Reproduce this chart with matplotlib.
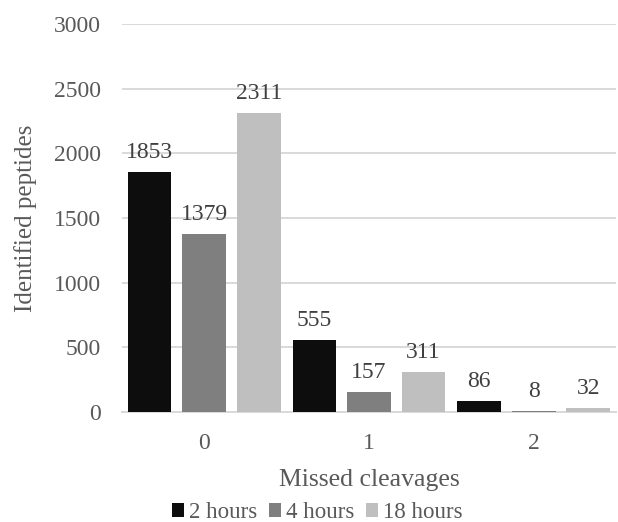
import matplotlib.pyplot as plt
import numpy as np

plt.rcParams['font.family'] = ['Liberation Serif', 'DejaVu Serif']

# Identified peptides per missed-cleavage count, by digestion time
categories = ['0', '1', '2']
series_names = ['2 hours', '4 hours', '18 hours']
hours_2 = [1853, 555, 86]
hours_4 = [1379, 157, 8]
hours_18 = [2311, 311, 32]
colors = ['#0d0d0d', '#7f7f7f', '#bfbfbf']

text_color = '#595959'

fig = plt.figure(figsize=(6.18, 5.22), dpi=100)
ax = fig.add_axes([0.197, 0.211, 0.800, 0.743])

x = np.arange(len(categories))
step = 0.331
width = 0.265
for i, (vals, name, c) in enumerate(zip([hours_2, hours_4, hours_18], series_names, colors)):
    pos = x + (i - 1) * step
    bars = ax.bar(pos, vals, width, color=c, label=name, zorder=3)
    for b, v in zip(bars, vals):
        ax.annotate(str(v), (b.get_x() + b.get_width() / 2, v),
                    xytext=(0, 10), textcoords='offset points',
                    ha='center', va='baseline', fontsize=17, color='#404040')

ax.set_xlim(-0.5, 2.5)
ax.set_ylim(0, 3000)
ax.set_yticks(range(0, 3001, 500))
ax.set_xticks(x)
ax.set_xticklabels(categories)
ax.yaxis.grid(True, color='#d9d9d9', linewidth=1.4, zorder=0)
ax.tick_params(axis='both', length=0, labelsize=17, labelcolor=text_color)
ax.tick_params(axis='y', pad=15)
ax.tick_params(axis='x', pad=15)
for side in ['top', 'right', 'left']:
    ax.spines[side].set_visible(False)
ax.spines['bottom'].set_color('#d9d9d9')
ax.spines['bottom'].set_linewidth(1.4)

ax.set_xlabel('Missed cleavages', fontsize=18.5, color=text_color, labelpad=11)
ax.set_ylabel('Identified peptides', fontsize=18, color=text_color, labelpad=12)

ax.legend(loc='center', bbox_to_anchor=(0.395, -0.26), ncol=3, frameon=False,
          fontsize=16.5, labelcolor=text_color, handlelength=0.55, handleheight=0.55,
          handletextpad=0.2, columnspacing=0.5, borderpad=0)

fig.savefig('out.png', dpi=100)
